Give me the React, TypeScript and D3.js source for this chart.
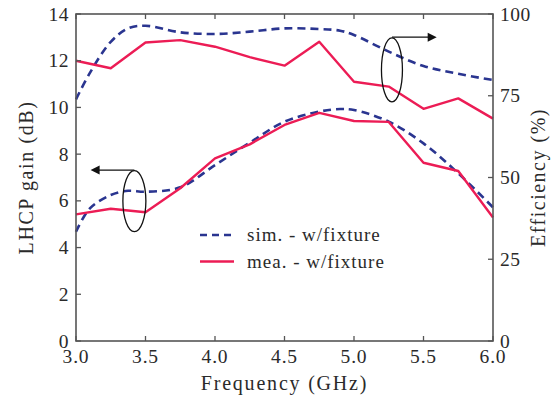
import React from "react";
import * as d3 from "d3";

// Frequency sweep (GHz)
const freqs = [3.0, 3.25, 3.5, 3.75, 4.0, 4.25, 4.5, 4.75, 5.0, 5.25, 5.5, 5.75, 6.0];

// Measured LHCP gain (dB) and efficiency (%)
const meaGain = [5.42, 5.66, 5.51, 6.54, 7.82, 8.42, 9.25, 9.77, 9.42, 9.38, 7.63, 7.28, 5.29];
const meaEff = [85.7, 83.4, 91.3, 92.0, 90.0, 86.8, 84.2, 91.5, 79.3, 77.8, 71.0, 74.2, 68.0];

// Simulated curves (denser sampling, smoothed)
const simFreqs = [3.0, 3.1, 3.25, 3.375, 3.5, 3.75, 4.0, 4.25, 4.5, 4.75, 4.9, 5.0, 5.25, 5.5, 5.75, 6.0];
const simGain = [4.68, 5.68, 6.25, 6.43, 6.39, 6.58, 7.53, 8.49, 9.39, 9.82, 9.93, 9.89, 9.39, 8.46, 7.18, 5.72];
const simEff = [73.9, 82.0, 91.5, 95.6, 96.4, 94.4, 93.9, 94.6, 95.6, 95.4, 94.9, 93.6, 88.5, 84.1, 81.7, 79.8];

// Axis ticks
const xTicks = [3.0, 3.5, 4.0, 4.5, 5.0, 5.5, 6.0];
const gainTicks = [0, 2, 4, 6, 8, 10, 12, 14];
const effTicks = [0, 25, 50, 75, 100];

const legendLabels = ["sim. - w/fixture", "mea. - w/fixture"];

const W = 557;
const H = 403;
const M = { left: 76, right: 64, top: 14, bottom: 62 };
const BLUE = "#2a3590";
const RED = "#ec1c55";
const AXIS = "#555";
const INK = "#2a2a2a";
const FONT = "Times New Roman, Liberation Serif, serif";

export default function App() {
  const x = d3.scaleLinear().domain([3, 6]).range([M.left, W - M.right]);
  const yG = d3.scaleLinear().domain([0, 14]).range([H - M.bottom, M.top]);
  const yE = d3.scaleLinear().domain([0, 100]).range([H - M.bottom, M.top]);

  const x0 = x.range()[0];
  const x1 = x.range()[1];
  const yb = yG.range()[0];
  const yt = yG.range()[1];

  const straight = d3.line<[number, number]>().x((d) => d[0]).y((d) => d[1]);
  const smooth = d3
    .line<[number, number]>()
    .x((d) => d[0])
    .y((d) => d[1])
    .curve(d3.curveCatmullRom.alpha(0.5));

  const meaGainPts = freqs.map((f, i) => [x(f), yG(meaGain[i])] as [number, number]);
  const meaEffPts = freqs.map((f, i) => [x(f), yE(meaEff[i])] as [number, number]);
  const simGainPts = simFreqs.map((f, i) => [x(f), yG(simGain[i])] as [number, number]);
  const simEffPts = simFreqs.map((f, i) => [x(f), yE(simEff[i])] as [number, number]);

  // Series-group callouts: ellipse around the curves plus arrow toward the relevant axis
  const gainCallout = { cx: x(3.42), cy: yG(5.99), ay: yG(7.32), tip: x(3.105) };
  const effCallout = { cx: x(5.273), cy: yE(82.9), ay: yE(92.9), tip: x(5.595) };

  const tickLen = 5;
  const dash = "8 5";

  return (
    <svg
      width={W}
      height={H}
      style={{ display: "block", position: "absolute", left: 0, top: 0, fontFamily: FONT }}
    >
      <rect width={W} height={H} fill="#fff" />

      {/* data */}
      <path d={smooth(simEffPts) || ""} fill="none" stroke={BLUE} strokeWidth={2.6} strokeDasharray={dash} />
      <path d={smooth(simGainPts) || ""} fill="none" stroke={BLUE} strokeWidth={2.6} strokeDasharray={dash} />
      <path d={straight(meaEffPts) || ""} fill="none" stroke={RED} strokeWidth={2.4} strokeLinejoin="round" />
      <path d={straight(meaGainPts) || ""} fill="none" stroke={RED} strokeWidth={2.4} strokeLinejoin="round" />

      {/* callouts */}
      <g stroke="#111" fill="none" strokeWidth={1.3}>
        <ellipse cx={gainCallout.cx} cy={gainCallout.cy} rx={11.5} ry={30.5} />
        <line x1={gainCallout.cx} y1={gainCallout.ay} x2={gainCallout.tip + 8} y2={gainCallout.ay} />
        <ellipse cx={effCallout.cx} cy={effCallout.cy} rx={10.5} ry={32} />
        <line x1={effCallout.cx} y1={effCallout.ay} x2={effCallout.tip - 8} y2={effCallout.ay} />
      </g>
      <path d={`M${gainCallout.tip},${gainCallout.ay} l9,-4.5 l0,9 z`} fill="#111" />
      <path d={`M${effCallout.tip},${effCallout.ay} l-9,-4.5 l0,9 z`} fill="#111" />

      {/* frame */}
      <rect x={x0} y={yt} width={x1 - x0} height={yb - yt} fill="none" stroke={AXIS} strokeWidth={1.6} />

      {/* x ticks (bottom and mirrored top, pointing inward) */}
      {xTicks.map((t) => (
        <g key={"x" + t}>
          <line x1={x(t)} x2={x(t)} y1={yb} y2={yb - tickLen} stroke={AXIS} strokeWidth={1.3} />
          <line x1={x(t)} x2={x(t)} y1={yt} y2={yt + tickLen} stroke={AXIS} strokeWidth={1.3} />
          <text x={x(t)} y={yb + 21.5} textAnchor="middle" fontSize={19.5} letterSpacing={0.8} fill={INK}>
            {t.toFixed(1)}
          </text>
        </g>
      ))}

      {/* left gain axis */}
      {gainTicks.map((t) => (
        <g key={"g" + t}>
          <line x1={x0} x2={x0 + tickLen} y1={yG(t)} y2={yG(t)} stroke={AXIS} strokeWidth={1.3} />
          <text x={x0 - 7} y={yG(t) + 6.5} textAnchor="end" fontSize={19.5} letterSpacing={0.5} fill={INK}>
            {t}
          </text>
        </g>
      ))}

      {/* right efficiency axis */}
      {effTicks.map((t) => (
        <g key={"e" + t}>
          <line x1={x1} x2={x1 - tickLen} y1={yE(t)} y2={yE(t)} stroke={AXIS} strokeWidth={1.3} />
          <text x={x1 + 7} y={yE(t) + 6.5} textAnchor="start" fontSize={19.5} letterSpacing={0.5} fill={INK}>
            {t}
          </text>
        </g>
      ))}

      {/* axis titles */}
      <text x={(x0 + x1) / 2} y={H - 13} textAnchor="middle" fontSize={20} letterSpacing={1.8} fill={INK}>
        Frequency (GHz)
      </text>
      <text
        transform={`translate(33,${(yt + yb) / 2}) rotate(-90)`}
        textAnchor="middle"
        fontSize={20}
        letterSpacing={1.6}
        fill={INK}
      >
        LHCP gain (dB)
      </text>
      <text
        transform={`translate(545,${(yt + yb) / 2}) rotate(-90)`}
        textAnchor="middle"
        fontSize={20}
        letterSpacing={1.5}
        fill={INK}
      >
        Efficiency (%)
      </text>

      {/* legend */}
      <g fontSize={19} letterSpacing={1} fill={INK}>
        <line x1={200} x2={234} y1={235} y2={235} stroke={BLUE} strokeWidth={2.6} strokeDasharray="7 5" />
        <text x={247} y={241}>{legendLabels[0]}</text>
        <line x1={200} x2={234} y1={261.5} y2={261.5} stroke={RED} strokeWidth={2.4} />
        <text x={247} y={267.5}>{legendLabels[1]}</text>
      </g>
    </svg>
  );
}
